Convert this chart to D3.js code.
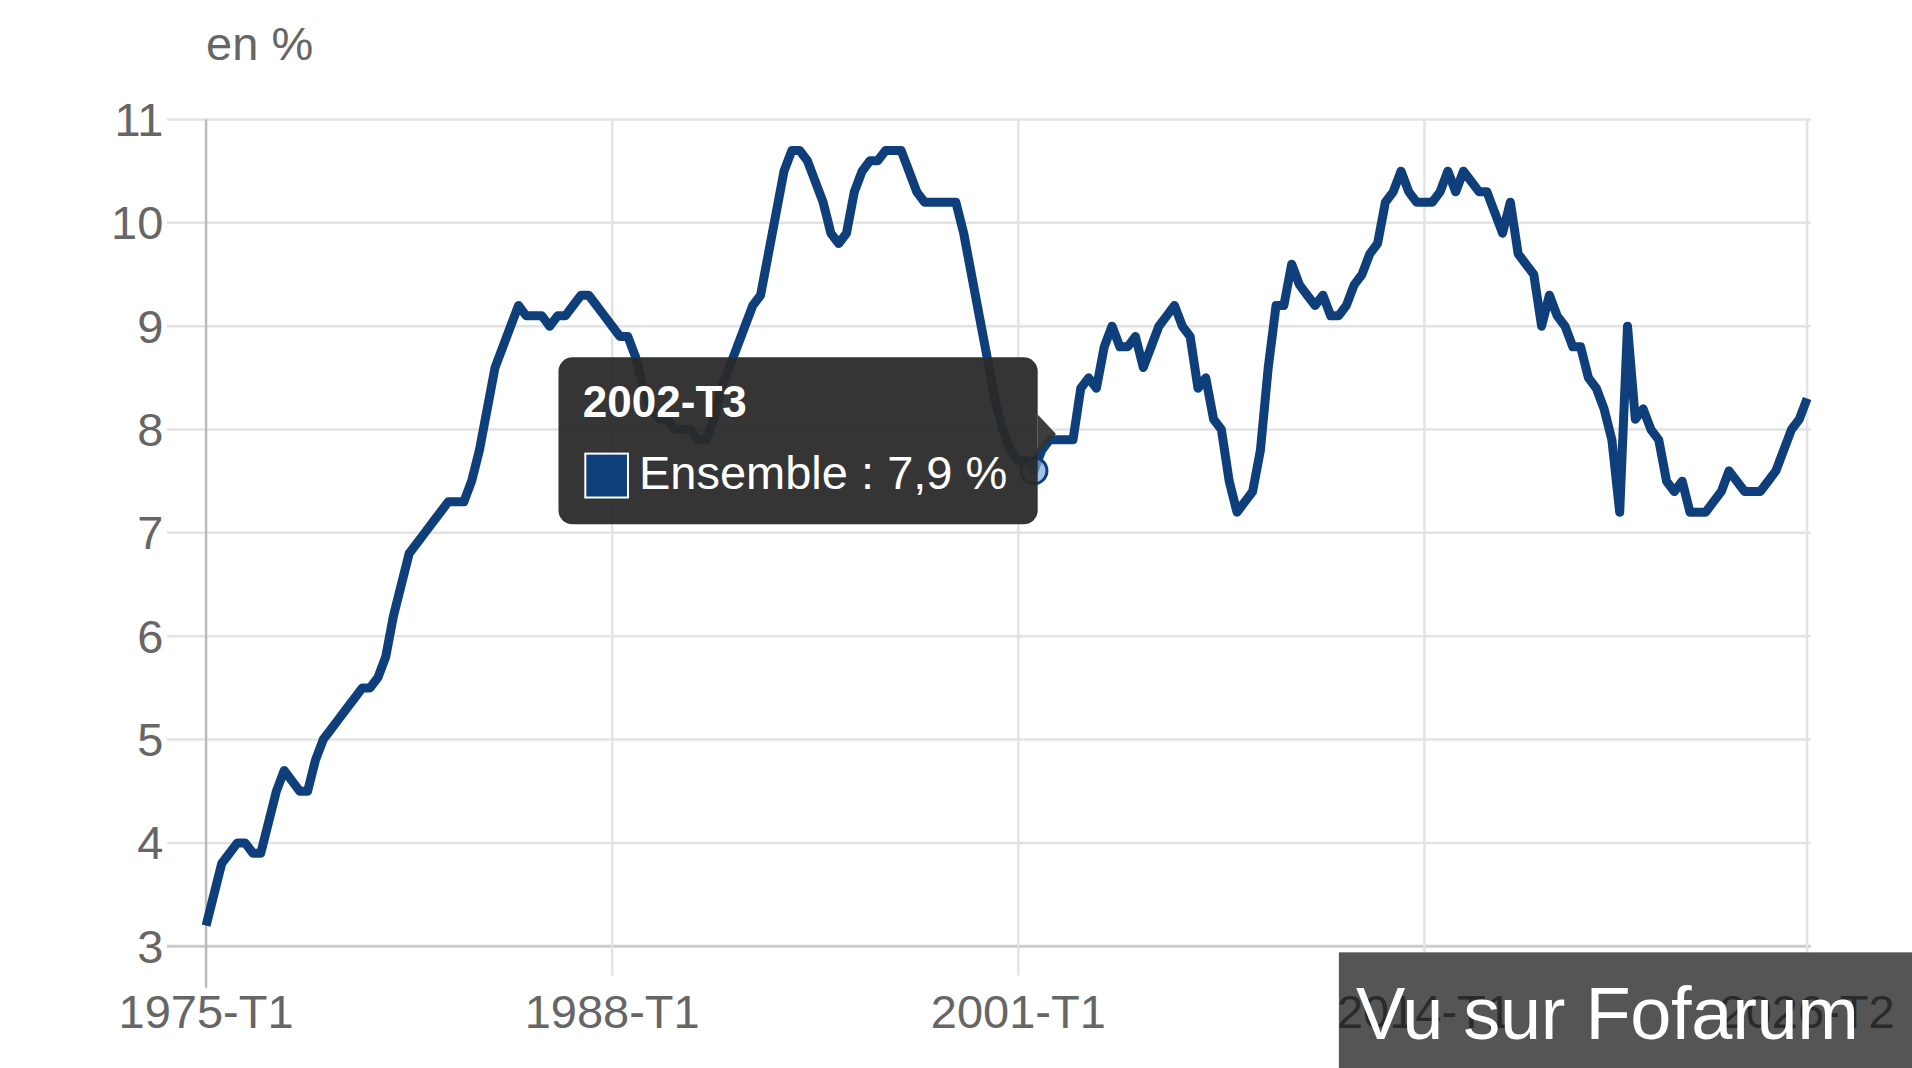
<!DOCTYPE html>
<html><head><meta charset="utf-8">
<script src="https://cdn.jsdelivr.net/npm/d3@7"></script>
<style>body{margin:0;background:#fff}svg{display:block;font-family:"Liberation Sans",Arial,sans-serif}</style>
</head><body><svg id="c" width="1912" height="1068"></svg>
<script>
const startYear = 1975;
const values = [
3.2,3.5,3.8,3.9, 4.0,4.0,3.9,3.9, 4.2,4.5,4.7,4.6, 4.5,4.5,4.8,5.0,
5.1,5.2,5.3,5.4, 5.5,5.5,5.6,5.8, 6.2,6.5,6.8,6.9, 7.0,7.1,7.2,7.3,
7.3,7.3,7.5,7.8, 8.2,8.6,8.8,9.0, 9.2,9.1,9.1,9.1, 9.0,9.1,9.1,9.2,
9.3,9.3,9.2,9.1, 9.0,8.9,8.9,8.7, 8.4,8.2,8.1,8.1, 8.0,8.0,8.0,7.9,
7.9,8.1,8.4,8.6, 8.8,9.0,9.2,9.3, 9.7,10.1,10.5,10.7, 10.7,10.6,10.4,10.2,
9.9,9.8,9.9,10.3, 10.5,10.6,10.6,10.7, 10.7,10.7,10.5,10.3, 10.2,10.2,10.2,10.2,
10.2,9.9,9.5,9.1, 8.7,8.3,8.0,7.8, 7.7,7.7,7.6,7.8, 7.9,7.9,7.9,7.9,
8.4,8.5,8.4,8.8, 9.0,8.8,8.8,8.9, 8.6,8.8,9.0,9.1, 9.2,9.0,8.9,8.4,
8.5,8.1,8.0,7.5, 7.2,7.3,7.4,7.8, 8.6,9.2,9.2,9.6, 9.4,9.3,9.2,9.3,
9.1,9.1,9.2,9.4, 9.5,9.7,9.8,10.2, 10.3,10.5,10.3,10.2, 10.2,10.2,10.3,10.5,
10.3,10.5,10.4,10.3, 10.3,10.1,9.9,10.2, 9.7,9.6,9.5,9.0, 9.3,9.1,9.0,8.8,
8.8,8.5,8.4,8.2, 7.9,7.2,9.0,8.1, 8.2,8.0,7.9,7.5, 7.4,7.5,7.2,7.2,
7.2,7.3,7.4,7.6, 7.5,7.4,7.4,7.4, 7.5,7.6,7.8,8.0, 8.1,8.3
];
const labels = values.map((v,i)=>(startYear+Math.floor(i/4))+"-T"+(i%4+1));
const xTickLabels = ["1975-T1","1988-T1","2001-T1","2014-T1","2026-T2"];
const yTicks = [3,4,5,6,7,8,9,10,11];
const tipLabel = "2002-T3", tipValue = "7,9", tipIndex = 106, seriesName = "Ensemble";

const s = 1912/1568;
const svg = d3.select("#c");
const x = d3.scaleLinear().domain([0, values.length-1]).range([169*s, 1482*s]);
const y = d3.scaleLinear().domain([3,11]).range([776*s, 98*s]);
const col = "#0f3f7a";

const g = svg.append("g");
g.selectAll(".hg").data(yTicks).join("line")
 .attr("x1",137*s).attr("x2",1485*s).attr("y1",d=>y(d)).attr("y2",d=>y(d))
 .attr("stroke",d=>d===3?"#ccc":"#e3e3e3").attr("stroke-width",d=>d===3?3:2.5);
const xi = xTickLabels.map(l=>labels.indexOf(l));
g.selectAll(".vg").data(xi).join("line")
 .attr("x1",d=>x(d)).attr("x2",d=>x(d)).attr("y1",98*s).attr("y2",(d)=>d===0?810*s:800*s)
 .attr("stroke",(d,i)=>i===0?"#bbb":"#e3e3e3").attr("stroke-width",2.5);
g.selectAll(".yl").data(yTicks).join("text")
 .attr("x",134*s).attr("y",d=>y(d)).attr("dy","0.35em").attr("text-anchor","end")
 .attr("font-size",47).attr("fill","#666").text(d=>d);
g.append("text").attr("x",169*s).attr("y",49*s).attr("font-size",47).attr("fill","#666").text("en %");

g.append("path").datum(values)
 .attr("d",d3.line().x((d,i)=>x(i)).y(d=>y(d)))
 .attr("fill","none").attr("stroke",col).attr("stroke-width",9).attr("stroke-linejoin","round");

// tooltip
const px = x(tipIndex), py = y(values[tipIndex]);
g.append("circle").attr("cx",px).attr("cy",py).attr("r",13).attr("fill","#7aa7d9").attr("fill-opacity",0.7).attr("stroke",col).attr("stroke-width",3);
const tg = g.append("g");
tg.append("path").attr("d",`M${851*s},${340*s} L${866*s},${356*s} L${851*s},${372*s} Z`).attr("fill","#333").attr("opacity",0.95);
tg.append("rect").attr("x",458*s).attr("y",293*s).attr("width",393*s).attr("height",137*s).attr("rx",14).attr("fill","#2a2a2a").attr("opacity",0.95);
tg.append("text").attr("x",478*s).attr("y",342*s).attr("font-size",44).attr("font-weight","bold").attr("fill","#fff").text(tipLabel);
tg.append("rect").attr("x",480*s).attr("y",372*s).attr("width",35*s).attr("height",36*s).attr("fill",col).attr("stroke","#fff").attr("stroke-width",2);
tg.append("text").attr("x",524*s).attr("y",401*s).attr("font-size",47).attr("fill","#fff").text(seriesName+" : "+tipValue+" %");

// watermark
g.append("rect").attr("x",1098*s).attr("y",781*s).attr("width",470*s).attr("height",95*s).attr("fill","#555");
g.selectAll(".xl").data(xTickLabels).join("text")
 .attr("x",(d,i)=>x(xi[i])).attr("y",843*s).attr("text-anchor","middle")
 .attr("font-size",47).attr("fill",(d,i)=>i>=3?"#2a2a2a":"#666").text(d=>d);
g.append("text").attr("x",1112*s).attr("y",852*s).attr("font-size",74).attr("fill","#fff").attr("letter-spacing",3).attr("textLength",415*s).text("Vu sur Fofarum");
</script></body></html>
